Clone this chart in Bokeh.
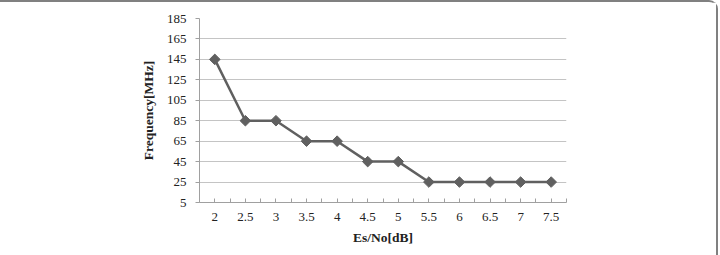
import math
from bokeh.plotting import figure
from bokeh.models import FixedTicker
from bokeh.embed import file_html
from bokeh.resources import INLINE

# data
es_no = [2, 2.5, 3, 3.5, 4, 4.5, 5, 5.5, 6, 6.5, 7, 7.5]
es_no_labels = ["2", "2.5", "3", "3.5", "4", "4.5", "5", "5.5", "6", "6.5", "7", "7.5"]
frequency = [145, 85, 85, 65, 65, 45, 45, 25, 25, 25, 25, 25]
y_ticks = [5, 25, 45, 65, 85, 105, 125, 145, 165, 185]

FONT = "Liberation Serif"
GRAY = "#606060"

p = figure(frame_width=367, frame_height=184,
           x_range=(1.75, 7.75), y_range=(5, 185),
           min_border_left=199, min_border_right=150,
           min_border_top=16, min_border_bottom=55,
           output_backend="svg", toolbar_location=None)
p.styles = {"border-top": "2px solid #808080", "border-right": "2px solid #808080",
            "border-top-right-radius": "9px"}
p.outline_line_color = None
p.background_fill_color = "white"
p.border_fill_color = "white"

minor = [x - 0.25 for x in es_no] + [es_no[-1] + 0.25]
p.xaxis.ticker = FixedTicker(ticks=es_no, minor_ticks=minor)
p.xaxis.major_label_overrides = {x: l for x, l in zip(es_no, es_no_labels)}
p.xaxis.major_tick_in = 4
p.xaxis.major_tick_out = 0
p.xaxis.minor_tick_in = 4
p.xaxis.minor_tick_out = 0
p.xaxis.major_tick_line_color = "#a0a0a0"
p.xaxis.minor_tick_line_color = "#a0a0a0"
p.xaxis.axis_line_color = "#a0a0a0"
p.xaxis.major_label_standoff = 10
p.xaxis.axis_label = "Es/No[dB]"
p.xaxis.axis_label_standoff = 6

p.yaxis.ticker = FixedTicker(ticks=y_ticks)
p.yaxis.major_tick_out = 4
p.yaxis.major_tick_in = 0
p.yaxis.minor_tick_line_color = None
p.yaxis.major_tick_line_color = "#a0a0a0"
p.yaxis.axis_line_color = "#a0a0a0"
p.yaxis.major_label_standoff = 9
p.yaxis.axis_label = "Frequency[MHz]"
p.yaxis.axis_label_standoff = 8

for ax in (p.xaxis[0], p.yaxis[0]):
    ax.major_label_text_font = FONT
    ax.major_label_text_font_size = "13px"
    ax.major_label_text_color = "#222222"
    ax.axis_label_text_font = FONT
    ax.axis_label_text_font_size = "13.5px"
    ax.axis_label_text_font_style = "bold"
    ax.axis_label_text_color = "#222222"

p.xgrid.grid_line_color = None
p.ygrid.ticker = FixedTicker(ticks=y_ticks[1:])
p.ygrid.grid_line_color = "#c4c4c4"
p.ygrid.grid_line_width = 1

p.line(es_no, frequency, line_color=GRAY, line_width=2.5)
p.scatter(es_no, frequency, marker="square", angle=math.pi / 4, size=7.5,
          fill_color=GRAY, line_color=GRAY)

open("out.html", "w").write(file_html(p, INLINE))
